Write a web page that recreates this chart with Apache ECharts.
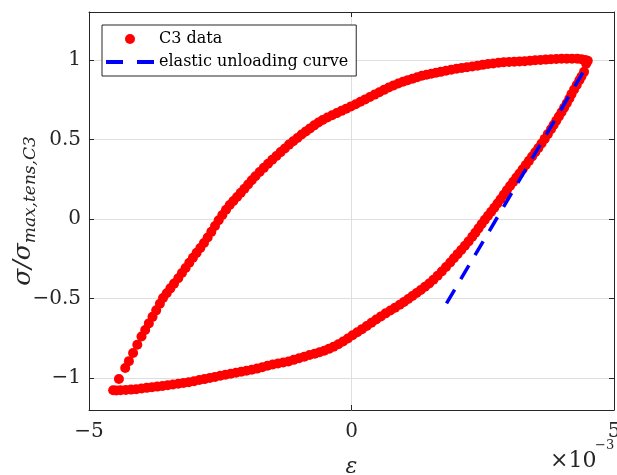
<!DOCTYPE html>
<html>
<head>
<meta charset="utf-8">
<script src="https://cdn.jsdelivr.net/npm/echarts@6/dist/echarts.min.js"></script>
<style>
  html, body { margin: 0; padding: 0; background: #ffffff; }
  #chart { width: 617px; height: 475px; }
</style>
</head>
<body>
<div id="chart"></div>
<script>
// Strain in units of 1e-3, stress normalised by the maximum tensile stress of specimen C3.

// Loading branch: from the compressive end up to the tensile peak
const loadingBranch = [
  [-4.43,-1.005],[-4.31,-0.936],[-4.24,-0.893],[-4.16,-0.842],[-4.08,-0.790],[-4.00,-0.738],
  [-3.93,-0.697],[-3.86,-0.656],[-3.79,-0.615],[-3.72,-0.574],[-3.65,-0.533],[-3.59,-0.497],
  [-3.52,-0.467],[-3.45,-0.436],[-3.38,-0.406],[-3.30,-0.372],[-3.23,-0.340],[-3.16,-0.308],
  [-3.09,-0.275],[-3.02,-0.244],[-2.95,-0.213],[-2.88,-0.182],[-2.81,-0.151],[-2.74,-0.117],
  [-2.67,-0.081],[-2.60,-0.044],[-2.53,-0.008],[-2.46,0.025],[-2.39,0.058],[-2.32,0.088],
  [-2.25,0.113],[-2.18,0.138],[-2.11,0.164],[-2.04,0.190],[-1.97,0.217],[-1.90,0.243],
  [-1.83,0.268],[-1.75,0.295],[-1.67,0.321],[-1.59,0.347],[-1.51,0.372],[-1.43,0.396],
  [-1.35,0.420],[-1.27,0.443],[-1.19,0.467],[-1.11,0.488],[-1.03,0.509],[-0.95,0.530],
  [-0.87,0.550],[-0.79,0.569],[-0.71,0.588],[-0.63,0.606],[-0.55,0.622],[-0.46,0.637],
  [-0.37,0.651],[-0.28,0.665],[-0.19,0.679],[-0.10,0.693],[-0.01,0.707],[0.08,0.721],
  [0.17,0.736],[0.26,0.751],[0.35,0.766],[0.44,0.781],[0.53,0.796],[0.62,0.811],
  [0.71,0.826],[0.80,0.839],[0.89,0.851],[0.98,0.862],[1.07,0.872],[1.16,0.881],
  [1.25,0.890],[1.34,0.899],[1.43,0.906],[1.52,0.912],[1.61,0.918],[1.70,0.924],
  [1.80,0.931],[1.90,0.938],[2.00,0.944],[2.10,0.949],[2.20,0.953],[2.30,0.958],
  [2.40,0.963],[2.50,0.968],[2.60,0.973],[2.70,0.977],[2.80,0.981],[2.90,0.984],
  [3.00,0.986],[3.10,0.988],[3.20,0.989],[3.30,0.991],[3.40,0.994],[3.50,0.997],
  [3.60,0.999],[3.70,1.001],[3.80,1.003],[3.90,1.005],[4.00,1.006],[4.10,1.007],
  [4.20,1.007],[4.30,1.006],[4.38,1.003],[4.45,0.998],[4.50,0.993]
];

// Unloading / reverse loading branch: from the tensile peak back to the compressive end
const unloadingBranch = [
  [4.47,0.975],[4.43,0.924],[4.38,0.895],[4.34,0.871],[4.29,0.842],[4.24,0.813],
  [4.19,0.784],[4.15,0.757],[4.10,0.727],[4.05,0.698],[4.00,0.670],[3.95,0.644],
  [3.90,0.617],[3.85,0.590],[3.80,0.564],[3.74,0.533],[3.68,0.503],[3.62,0.474],
  [3.56,0.446],[3.50,0.419],[3.44,0.392],[3.38,0.365],[3.32,0.339],[3.26,0.312],
  [3.20,0.286],[3.14,0.260],[3.08,0.233],[3.02,0.207],[2.96,0.180],[2.90,0.152],
  [2.84,0.124],[2.78,0.097],[2.72,0.070],[2.66,0.045],[2.60,0.020],[2.54,-0.005],
  [2.48,-0.032],[2.42,-0.059],[2.36,-0.086],[2.30,-0.112],[2.23,-0.141],[2.16,-0.168],
  [2.09,-0.195],[2.02,-0.221],[1.95,-0.247],[1.88,-0.273],[1.80,-0.302],[1.72,-0.330],
  [1.64,-0.357],[1.56,-0.382],[1.48,-0.405],[1.40,-0.426],[1.32,-0.446],[1.24,-0.465],
  [1.16,-0.484],[1.08,-0.503],[1.00,-0.521],[0.92,-0.539],[0.83,-0.557],[0.74,-0.575],
  [0.65,-0.593],[0.56,-0.612],[0.47,-0.632],[0.38,-0.652],[0.29,-0.672],[0.20,-0.692],
  [0.11,-0.712],[0.02,-0.731],[-0.07,-0.751],[-0.16,-0.770],[-0.25,-0.787],[-0.34,-0.802],
  [-0.43,-0.816],[-0.52,-0.828],[-0.61,-0.837],[-0.70,-0.846],[-0.80,-0.855],[-0.90,-0.865],
  [-1.00,-0.875],[-1.10,-0.885],[-1.20,-0.895],[-1.30,-0.902],[-1.40,-0.908],[-1.50,-0.914],
  [-1.60,-0.922],[-1.70,-0.931],[-1.80,-0.940],[-1.90,-0.947],[-2.00,-0.953],[-2.10,-0.959],
  [-2.20,-0.966],[-2.30,-0.972],[-2.40,-0.979],[-2.50,-0.985],[-2.60,-0.992],[-2.70,-0.999],
  [-2.80,-1.006],[-2.90,-1.012],[-3.00,-1.019],[-3.10,-1.025],[-3.20,-1.030],[-3.30,-1.035],
  [-3.40,-1.040],[-3.50,-1.044],[-3.60,-1.049],[-3.70,-1.053],[-3.80,-1.057],[-3.90,-1.061],
  [-4.00,-1.065],[-4.10,-1.069],[-4.20,-1.072],[-4.30,-1.074],[-4.40,-1.076],[-4.48,-1.077],
  [-4.54,-1.076]
];

// Elastic unloading line from the tensile peak
const elasticLine = [[1.81, -0.53], [4.48, 0.96]];

// Axis ticks
const strainTicks = [-5, 0, 5];
const stressTicks = [-1, -0.5, 0, 0.5, 1];

const FONT = 'DejaVu Serif';
const AXIS_COLOR = '#262626';
const GRID_COLOR = '#dfdfdf';
const withMinus = v => (v < 0 ? '\u2212' + Math.abs(v) : String(v));

const chart = echarts.init(document.getElementById('chart'), null, { renderer: 'canvas' });

const axisLine = { show: true, onZero: false, lineStyle: { color: AXIS_COLOR, width: 1 } };
const axisTick = { show: true, inside: true, length: 5, lineStyle: { color: AXIS_COLOR, width: 1 } };

chart.setOption({
  animation: false,
  backgroundColor: '#ffffff',
  grid: { left: 89, right: 3, top: 12, bottom: 65, containLabel: false, outerBoundsMode: 'none' },
  legend: {
    left: 102,
    top: 25,
    orient: 'vertical',
    padding: [5, 8, 5, 4],
    itemGap: 5,
    itemWidth: 48,
    itemHeight: 10,
    borderColor: AXIS_COLOR,
    borderWidth: 1,
    borderRadius: 0,
    backgroundColor: '#ffffff',
    selectedMode: false,
    textStyle: { fontFamily: FONT, fontSize: 16, color: '#000000', lineHeight: 18 },
    data: [
      { name: 'C3 data', icon: 'circle' },
      { name: 'elastic unloading curve', icon: 'path://M0,0H17V4H0Z M31,0H48V4H31Z' }
    ]
  },
  xAxis: [
    {
      type: 'value', min: strainTicks[0], max: strainTicks[strainTicks.length - 1], interval: 5,
      position: 'bottom',
      axisLine, axisTick,
      axisLabel: { formatter: withMinus, fontFamily: FONT, fontSize: 20, color: AXIS_COLOR, margin: 12 },
      splitLine: { show: true, lineStyle: { color: GRID_COLOR, width: 1 } },
      name: 'ε', nameLocation: 'middle', nameGap: 46, nameMoveOverlap: false,
      nameTextStyle: { fontFamily: FONT, fontStyle: 'italic', fontSize: 22, color: AXIS_COLOR }
    },
    {
      type: 'value', min: strainTicks[0], max: strainTicks[strainTicks.length - 1], interval: 5,
      position: 'top',
      axisLine, axisTick,
      axisLabel: { show: false }, splitLine: { show: false }
    }
  ],
  yAxis: [
    {
      type: 'value', min: -1.2, max: 1.3,
      position: 'left',
      axisLine,
      axisTick: Object.assign({ customValues: stressTicks }, axisTick),
      axisLabel: { customValues: stressTicks, formatter: withMinus, fontFamily: FONT, fontSize: 20, color: AXIS_COLOR, margin: 8 },
      splitLine: { show: true, lineStyle: { color: GRID_COLOR, width: 1 } },
      name: '{m|σ}{m|/}{m|σ}{s|max,tens,C3}',
      nameLocation: 'middle', nameGap: 50, nameRotate: 90, nameMoveOverlap: false,
      nameTextStyle: {
        color: AXIS_COLOR,
        rich: {
          m: { fontFamily: FONT, fontStyle: 'italic', fontSize: 25, lineHeight: 32, color: AXIS_COLOR },
          s: { fontFamily: FONT, fontStyle: 'italic', fontSize: 17, lineHeight: 17, verticalAlign: 'bottom', color: AXIS_COLOR }
        }
      }
    },
    {
      type: 'value', min: -1.2, max: 1.3,
      position: 'right',
      axisLine,
      axisTick: Object.assign({ customValues: stressTicks }, axisTick),
      axisLabel: { show: false }, splitLine: { show: false }
    }
  ],
  graphic: [
    {
      type: 'text', left: 550, top: 450, silent: true,
      style: { text: '×10', fontFamily: FONT, fontSize: 22, fill: AXIS_COLOR }
    },
    {
      type: 'text', left: 595, top: 439, silent: true,
      style: { text: '\u22123', fontFamily: FONT, fontSize: 13, fill: AXIS_COLOR }
    }
  ],
  series: [
    {
      type: 'scatter', name: 'C3 data',
      data: loadingBranch.concat(unloadingBranch),
      symbol: 'circle', symbolSize: 10,
      itemStyle: { color: '#ff0000', opacity: 1 },
      emphasis: { disabled: true },
      z: 2
    },
    {
      type: 'line', name: 'elastic unloading curve',
      data: elasticLine,
      symbol: 'none', showSymbol: false,
      lineStyle: { color: '#0000ff', width: 3.5, type: [16, 12] },
      itemStyle: { color: '#0000ff' },
      emphasis: { disabled: true },
      z: 3
    }
  ]
});
</script>
</body>
</html>
